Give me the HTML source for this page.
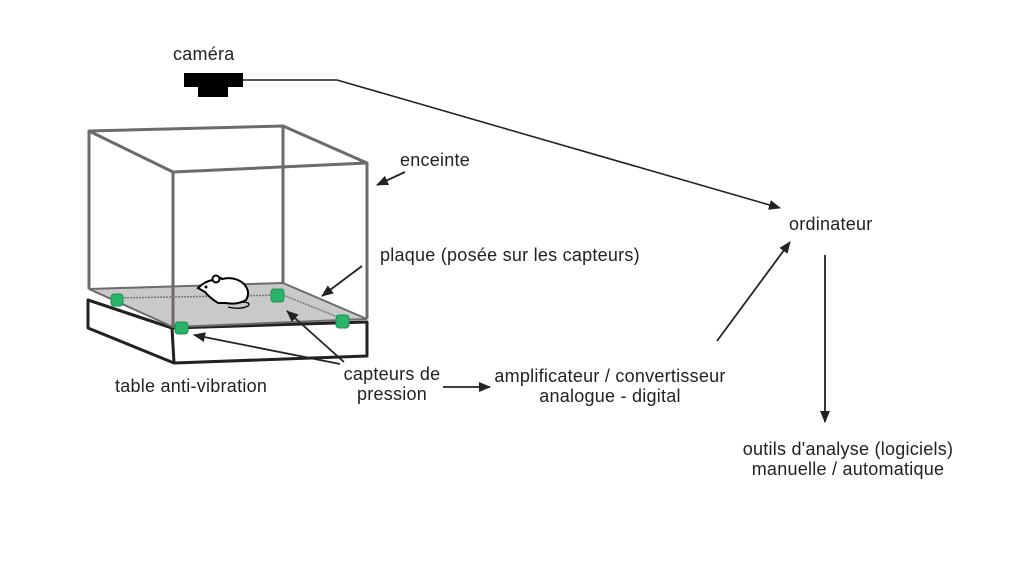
<!DOCTYPE html>
<html><head><meta charset="utf-8"><style>
html,body{margin:0;padding:0;background:#fff;}
svg{display:block;}
text{font-family:"Liberation Sans",Arial,sans-serif;font-size:18px;letter-spacing:0.25px;fill:#222;}
</style></head><body>
<svg width="1024" height="562" viewBox="0 0 1024 562" xmlns="http://www.w3.org/2000/svg">
<defs>
<marker id="ah" markerWidth="12" markerHeight="12" refX="11" refY="6" orient="auto" markerUnits="userSpaceOnUse">
<path d="M0,1 L12,6 L0,11 Z" fill="#222"/></marker>
</defs>
<rect x="184" y="73" width="59" height="14" fill="#000"/>
<rect x="198" y="86" width="30" height="11" fill="#000"/>
<polyline points="243,80 337,80 780,208" fill="none" stroke="#222" stroke-width="1.6" marker-end="url(#ah)"/>
<polygon points="88,300 172,328 367,322 367,356 174,363 88,328" fill="#fff" stroke="#222" stroke-width="3" stroke-linejoin="round"/>
<line x1="172" y1="328" x2="174" y2="363" stroke="#222" stroke-width="3"/>
<line x1="88" y1="300" x2="172" y2="328" stroke="#222" stroke-width="3"/>
<polygon points="89,289 283,283 367,319 173,327" fill="#c9c9c9" stroke="#6e6a68" stroke-width="2"/>
<polyline points="115,298 283,295 345,320" fill="none" stroke="#777" stroke-width="1.5" stroke-dasharray="2,1"/>
<g stroke="#6e6a68" stroke-width="3" fill="none" stroke-linejoin="round">
<polygon points="89,131 283,126 367,163 173,172"/>
<line x1="89" y1="131" x2="89" y2="289"/>
<line x1="283" y1="126" x2="283" y2="283"/>
<line x1="173" y1="172" x2="173" y2="327"/>
<line x1="367" y1="163" x2="367" y2="319"/>
</g>
<g fill="#2bb36a" stroke="#1e8f52" stroke-width="1">
<rect x="111" y="294" width="12" height="12" rx="3"/>
<rect x="271" y="289" width="13" height="13" rx="3"/>
<rect x="336" y="315" width="13" height="13" rx="3"/>
<rect x="175" y="322" width="13" height="12" rx="3"/>
</g>
<g stroke="#000" stroke-width="2" fill="#fff">
<path d="M198,288 Q205,281 213,280 Q218,275 222,279 Q235,276 244,284 Q251,292 246,300 Q238,305 225,303 L218,303 Q210,298 205,292 Z"/>
<circle cx="216" cy="279" r="3.5"/>
<path d="M240,302 Q252,302 248,306 Q240,310 228,307" fill="none" stroke-width="1.3"/>
</g>
<circle cx="206" cy="287" r="1.5" fill="#000"/>
<g stroke="#222" stroke-width="1.8" fill="none">
<line x1="405" y1="172" x2="377" y2="185" marker-end="url(#ah)"/>
<line x1="362" y1="266" x2="322" y2="296" marker-end="url(#ah)"/>
<line x1="344" y1="362" x2="287" y2="311" marker-end="url(#ah)"/>
<line x1="340" y1="364" x2="194" y2="335" marker-end="url(#ah)"/>
<line x1="443" y1="387" x2="490" y2="387" marker-end="url(#ah)"/>
<line x1="717" y1="341" x2="790" y2="242" marker-end="url(#ah)"/>
<line x1="825" y1="255" x2="825" y2="422" marker-end="url(#ah)"/>
</g>
<text x="173" y="60">caméra</text>
<text x="400" y="166">enceinte</text>
<text x="380" y="261">plaque (posée sur les capteurs)</text>
<text x="789" y="230">ordinateur</text>
<text x="115" y="392">table anti-vibration</text>
<text x="392" y="380" text-anchor="middle">capteurs de</text>
<text x="392" y="400" text-anchor="middle">pression</text>
<text x="610" y="382" text-anchor="middle">amplificateur / convertisseur</text>
<text x="610" y="402" text-anchor="middle">analogue - digital</text>
<text x="848" y="455" text-anchor="middle">outils d'analyse (logiciels)</text>
<text x="848" y="475" text-anchor="middle">manuelle / automatique</text>
</svg>
</body></html>
